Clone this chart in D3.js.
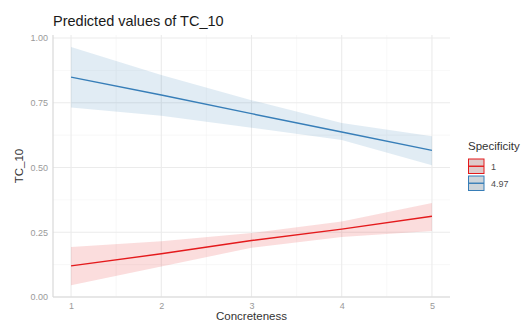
<!DOCTYPE html>
<html>
<head>
<meta charset="utf-8">
<script src="https://cdn.jsdelivr.net/npm/d3@7"></script>
<style>
  body { margin: 0; background: #fff; }
  text { font-family: "Liberation Sans", Arial, sans-serif; }
</style>
</head>
<body>
<svg id="chart"></svg>
<script>
// Chart size
const width = 521;
const height = 324;
const margin = { top: 35, right: 71, bottom: 27, left: 53 };

// Data
const concreteness = [1, 2, 3, 4, 5];
const groups = ["1", "4.97"];
const predicted = {
    "1":    [0.120, 0.167, 0.218, 0.262, 0.312],
    "4.97": [0.849, 0.780, 0.708, 0.637, 0.566]
};
const lower = {
    "1":    [0.045, 0.118, 0.190, 0.232, 0.255],
    "4.97": [0.732, 0.700, 0.654, 0.606, 0.509]
};
const upper = {
    "1":    [0.193, 0.215, 0.247, 0.292, 0.363],
    "4.97": [0.965, 0.857, 0.760, 0.672, 0.621]
};
const xTicks = [1, 2, 3, 4, 5];
const yTicks = [0, 0.25, 0.5, 0.75, 1];
const colors = { "1": "#E41A1C", "4.97": "#377EB8" };

const svg = d3.select("#chart")
    .attr("width", width)
    .attr("height", height);

const xScale = d3.scaleLinear()
    .domain([0.8, 5.2])
    .range([margin.left, width - margin.right]);

const yScale = d3.scaleLinear()
    .domain([0, 1.0118])
    .range([height - margin.bottom, margin.top]);

// Grid lines
const grid = svg.append("g");
const xMinor = [1.5, 2.5, 3.5, 4.5];
const yMinor = [0.125, 0.375, 0.625, 0.875];

grid.selectAll("line.xminor").data(xMinor).enter().append("line")
    .attr("x1", d => xScale(d)).attr("x2", d => xScale(d))
    .attr("y1", margin.top).attr("y2", height - margin.bottom)
    .attr("stroke", "#f3f3f3").attr("stroke-width", 0.6);
grid.selectAll("line.yminor").data(yMinor).enter().append("line")
    .attr("y1", d => yScale(d)).attr("y2", d => yScale(d))
    .attr("x1", margin.left).attr("x2", width - margin.right)
    .attr("stroke", "#f3f3f3").attr("stroke-width", 0.6);
grid.selectAll("line.xmajor").data(xTicks).enter().append("line")
    .attr("x1", d => xScale(d)).attr("x2", d => xScale(d))
    .attr("y1", margin.top).attr("y2", height - margin.bottom)
    .attr("stroke", "#ebebeb").attr("stroke-width", 1.1);
grid.selectAll("line.ymajor").data(yTicks).enter().append("line")
    .attr("y1", d => yScale(d)).attr("y2", d => yScale(d))
    .attr("x1", margin.left).attr("x2", width - margin.right)
    .attr("stroke", "#ebebeb").attr("stroke-width", 1.1);

// Ribbons and lines
const area = d3.area()
    .x((d, i) => xScale(concreteness[i]))
    .y0(d => yScale(d[0]))
    .y1(d => yScale(d[1]));

const line = d3.line()
    .x((d, i) => xScale(concreteness[i]))
    .y(d => yScale(d));

groups.forEach(g => {
    const band = lower[g].map((v, i) => [v, upper[g][i]]);
    svg.append("path")
        .attr("d", area(band))
        .attr("fill", colors[g])
        .attr("fill-opacity", 0.15);
});
groups.forEach(g => {
    svg.append("path")
        .attr("d", line(predicted[g]))
        .attr("fill", "none")
        .attr("stroke", colors[g])
        .attr("stroke-width", 1.4);
});

// Axis lines
svg.append("line")
    .attr("x1", margin.left).attr("x2", margin.left)
    .attr("y1", margin.top).attr("y2", height - margin.bottom)
    .attr("stroke", "#d9d9d9").attr("stroke-width", 1.2);
svg.append("line")
    .attr("x1", margin.left).attr("x2", width - margin.right)
    .attr("y1", height - margin.bottom).attr("y2", height - margin.bottom)
    .attr("stroke", "#d9d9d9").attr("stroke-width", 1.2);

// Axes (labels only)
const xAxis = d3.axisBottom(xScale).tickValues(xTicks).tickSize(0).tickPadding(6)
    .tickFormat(d3.format("d"));
const yAxis = d3.axisLeft(yScale).tickValues(yTicks).tickSize(0).tickPadding(5)
    .tickFormat(d3.format(".2f"));

const gX = svg.append("g")
    .attr("transform", `translate(0,${height - margin.bottom})`)
    .call(xAxis);
const gY = svg.append("g")
    .attr("transform", `translate(${margin.left},0)`)
    .call(yAxis);
[gX, gY].forEach(g => {
    g.select(".domain").remove();
    g.selectAll("text")
        .attr("fill", "#9a9a9a")
        .style("font-size", "9px")
        .style("font-family", "'Liberation Sans', Arial, sans-serif");
});

// Titles
svg.append("text")
    .attr("x", margin.left)
    .attr("y", 26)
    .attr("font-size", 14.5)
    .attr("fill", "#1a1a1a")
    .text("Predicted values of TC_10");

svg.append("text")
    .attr("x", (margin.left + width - margin.right) / 2)
    .attr("y", height - 4)
    .attr("text-anchor", "middle")
    .attr("font-size", 11.5)
    .attr("fill", "#333")
    .text("Concreteness");

svg.append("text")
    .attr("transform", `translate(23,${(margin.top + height - margin.bottom) / 2}) rotate(-90)`)
    .attr("text-anchor", "middle")
    .attr("font-size", 11.5)
    .attr("fill", "#333")
    .text("TC_10");

// Legend
const legend = svg.append("g").attr("transform", "translate(468,150)");
legend.append("text")
    .attr("x", 0).attr("y", 0)
    .attr("font-size", 11.5)
    .attr("fill", "#333")
    .text("Specificity");

const keys = legend.selectAll("g.key").data(groups).enter().append("g")
    .attr("transform", (d, i) => `translate(0,${8.5 + i * 17})`);
keys.append("rect")
    .attr("x", 0.5).attr("y", 0.5)
    .attr("width", 15.5).attr("height", 14.5)
    .attr("fill", "#dedede")
    .attr("stroke", d => colors[d])
    .attr("stroke-width", 1);
keys.append("rect")
    .attr("x", 0.5).attr("y", 0.5)
    .attr("width", 15.5).attr("height", 14.5)
    .attr("fill", d => colors[d])
    .attr("fill-opacity", 0.1);
keys.append("line")
    .attr("x1", 0.5).attr("x2", 16)
    .attr("y1", 7.75).attr("y2", 7.75)
    .attr("stroke", d => colors[d])
    .attr("stroke-width", 1.4);
keys.append("text")
    .attr("x", 23).attr("y", 11)
    .attr("font-size", 9)
    .attr("fill", "#4d4d4d")
    .text(d => d);
</script>
</body>
</html>
